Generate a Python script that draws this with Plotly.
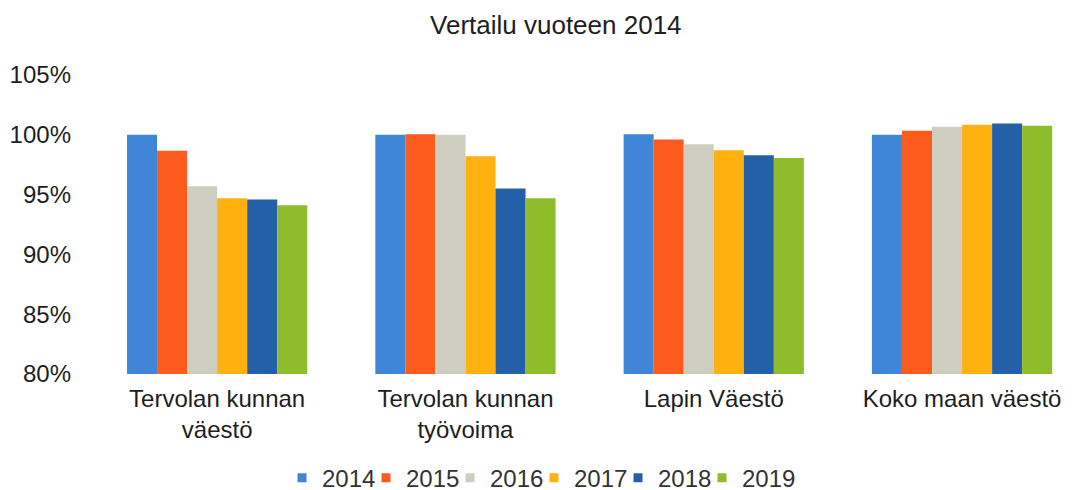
import plotly.graph_objects as go

categories = ["Tervolan kunnan<br>väestö", "Tervolan kunnan<br>työvoima", "Lapin Väestö", "Koko maan väestö"]
years = ["2014", "2015", "2016", "2017", "2018", "2019"]
v2014 = [100.0, 100.0, 100.05, 100.0]
v2015 = [98.67, 100.05, 99.6, 100.33]
v2016 = [95.7, 100.0, 99.2, 100.67]
v2017 = [94.7, 98.2, 98.7, 100.83]
v2018 = [94.6, 95.5, 98.3, 100.95]
v2019 = [94.1, 94.7, 98.05, 100.75]
series = [v2014, v2015, v2016, v2017, v2018, v2019]
colors = ["#3f87d6", "#fd5a1e", "#cdcdc0", "#ffb20f", "#2360a8", "#8dbd2a"]

fig = go.Figure()
for y, vals, c in zip(years, series, colors):
    fig.add_trace(go.Bar(
        name=y, x=categories, y=[v / 100 for v in vals],
        marker=dict(color=c, line=dict(width=0)), showlegend=False,
    ))
# legend entries with small square symbols
for y, c in zip(years, colors):
    fig.add_trace(go.Scatter(
        name=y, x=[None], y=[None], mode="markers",
        marker=dict(symbol="square", size=9, color=c), showlegend=True,
    ))
# invisible spacer entry so the last legend label is not clipped
fig.add_trace(go.Scatter(
    name=" ", x=[None], y=[None], mode="markers",
    marker=dict(symbol="square", size=9, color="rgba(0,0,0,0)"), showlegend=True,
    hoverinfo="skip",
))

font_family = "Liberation Sans, Arial, sans-serif"
fig.update_layout(
    width=1072, height=490,
    barmode="group", bargap=0.274, bargroupgap=0,
    paper_bgcolor="white", plot_bgcolor="white",
    margin=dict(l=85, r=0, t=67, b=124, autoexpand=False),
    font=dict(family=font_family, size=24, color="#1e1e1e"),
    title=dict(text="Vertailu vuoteen 2014", x=0.511, xanchor="center", y=1 - 17 / 490, yanchor="middle",
               font=dict(size=26, color="#1e1e1e")),
    xaxis=dict(range=[-0.5, 3.475], showgrid=False, showline=False, zeroline=False,
               ticklabelstandoff=8, tickfont=dict(size=24, color="#1e1e1e")),
    yaxis=dict(range=[0.8, 1.05], dtick=0.05, tickformat=".0%", showgrid=False, showline=False,
               zeroline=False, ticklabelstandoff=21, tickfont=dict(size=24, color="#1e1e1e")),
    legend=dict(orientation="h", x=0.1915, xanchor="left", y=-0.348, yanchor="middle",
                font=dict(size=24, color="#333333"), itemwidth=30,
                entrywidth=39, entrywidthmode="pixels"),
)

fig.write_html("out.html")
